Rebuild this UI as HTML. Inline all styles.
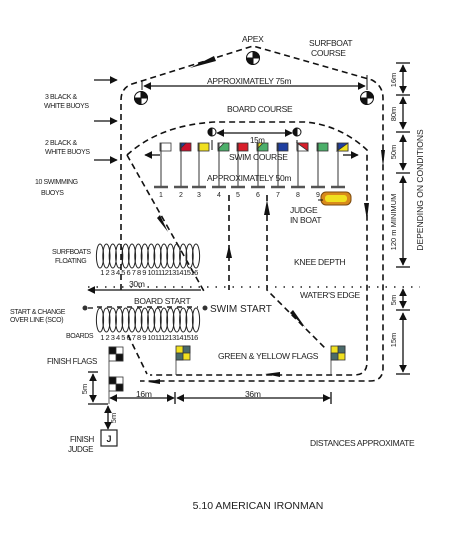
<!DOCTYPE html>
<html><head><meta charset="utf-8"><style>
html,body{margin:0;padding:0;background:#fff;width:469px;height:533px;overflow:hidden}
svg{display:block}
text{font-family:"Liberation Sans",sans-serif;fill:#222}
</style></head><body>
<svg width="469" height="533" viewBox="0 0 469 533" xmlns="http://www.w3.org/2000/svg">
<defs>
<marker id="ah" viewBox="0 0 10 10" refX="9" refY="5" markerWidth="6" markerHeight="6" orient="auto-start-reverse"><path d="M0,0L10,5L0,10z" fill="#111"/></marker>
<g id="coil"><ellipse cx="0" cy="0" rx="3.6" ry="12" fill="none" stroke="#222" stroke-width="1"/></g>
</defs>
<g fill="none" stroke="#111" stroke-width="1.6" stroke-dasharray="6,4">
<path d="M121,290 L121,100 Q121,88 132,84 L253,46 L372,80 Q383,86 383,98 L383,368 Q383,381 370,381 L140,381"/>
<path d="M128,335 L147,374"/>
<path d="M127,155 Q160,125 215,122 L305,122 Q340,125 367,150 L367,362 Q367,375 354,375 L150,375"/>
<path d="M127,155 L205,293"/>
<path d="M229,195 L229,290"/>
<path d="M267,195 L267,290 L327,350"/>
</g>
<g fill="#111">
<path d="M190,68 L214,56 L216,61z"/>
<path d="M381,150 L385,150 L383,167z"/>
<path d="M364,203 L369,203 L367,220z"/>
<path d="M229,245 L226,258 L232,258z"/>
<path d="M267,200 L264,215 L270,215z"/>
<path d="M160,215 L157,218 L168,232z"/>
<path d="M293,310 L290,313 L305,327z"/>
<path d="M265,374 L280,372 L280,377z"/>
<path d="M148,382 L160,379 L160,384z"/>
</g>
<line x1="88" y1="287" x2="420" y2="287" stroke="#222" stroke-width="1.6" stroke-dasharray="1.5,7"/>
<g stroke="#111" stroke-width="1">
<circle cx="253" cy="58" r="6.5" fill="#fff"/><path d="M253,58V51.5A6.5,6.5 0 0 1 259.5,58z M253,58V64.5A6.5,6.5 0 0 1 246.5,58z" fill="#111"/>
<circle cx="141" cy="98" r="6.5" fill="#fff"/><path d="M141,98V91.5A6.5,6.5 0 0 1 147.5,98z M141,98V104.5A6.5,6.5 0 0 1 134.5,98z" fill="#111"/>
<circle cx="367" cy="98" r="6.5" fill="#fff"/><path d="M367,98V91.5A6.5,6.5 0 0 1 373.5,98z M367,98V104.5A6.5,6.5 0 0 1 360.5,98z" fill="#111"/>
<circle cx="212" cy="132" r="4" fill="#fff"/><path d="M212,128A4,4 0 0 0 212,136z" fill="#111"/>
<circle cx="297" cy="132" r="4" fill="#fff"/><path d="M297,128A4,4 0 0 0 297,136z" fill="#111"/>
<line x1="212" y1="140" x2="212" y2="150"/><line x1="297" y1="140" x2="297" y2="150"/>
<line x1="142" y1="80" x2="142" y2="90"/><line x1="367" y1="75" x2="367" y2="90"/>
</g>
<g stroke="#111" stroke-width="1.3">
<line x1="144" y1="86" x2="365" y2="86" marker-start="url(#ah)" marker-end="url(#ah)"/>
<line x1="217" y1="133" x2="292" y2="133" marker-start="url(#ah)" marker-end="url(#ah)"/>
<line x1="94" y1="80" x2="117" y2="80" marker-end="url(#ah)"/>
<line x1="94" y1="121" x2="117" y2="121" marker-end="url(#ah)"/>
<line x1="94" y1="160" x2="117" y2="160" marker-end="url(#ah)"/>
<line x1="160" y1="155" x2="145" y2="155" marker-end="url(#ah)"/>
<line x1="343" y1="155" x2="358" y2="155" marker-end="url(#ah)"/>
<line x1="201" y1="290" x2="88" y2="290" marker-end="url(#ah)"/>
<line x1="88" y1="308" x2="93" y2="308"/>
</g>
<circle cx="85" cy="308" r="2.5" fill="#333"/>
<circle cx="205" cy="308" r="2.5" fill="#333"/>
<g stroke="#333" stroke-width="0.8">
<rect x="160" y="143" width="11" height="8" fill="#fff"/>
<rect x="180" y="143" width="11" height="8" fill="#c8102e"/><path d="M180,143h6l-6,6z" fill="#1f3fa0"/>
<rect x="198" y="143" width="11" height="8" fill="#f0e020"/>
<rect x="218" y="143" width="11" height="8" fill="#4caf6a"/><path d="M218,143h6l-6,6z" fill="#fff"/>
<rect x="237" y="143" width="11" height="8" fill="#d81e2a"/>
<rect x="257" y="143" width="11" height="8" fill="#4caf6a"/><path d="M257,143h6l-6,6z" fill="#f0e020"/>
<rect x="277" y="143" width="11" height="8" fill="#1f3fa0"/>
<rect x="297" y="143" width="11" height="8" fill="#fff"/><path d="M297,143h11v8z" fill="#d81e2a"/>
<rect x="317" y="143" width="11" height="8" fill="#4caf6a"/>
<rect x="337" y="143" width="11" height="8" fill="#1f3fa0"/><path d="M348,143v8h-11z" fill="#f0e020"/>
</g>
<g stroke="#333" stroke-width="1">
<line x1="161" y1="143" x2="161" y2="187"/><line x1="181" y1="143" x2="181" y2="187"/><line x1="199" y1="143" x2="199" y2="187"/><line x1="219" y1="143" x2="219" y2="187"/><line x1="238" y1="143" x2="238" y2="187"/><line x1="258" y1="143" x2="258" y2="187"/><line x1="278" y1="143" x2="278" y2="187"/><line x1="298" y1="143" x2="298" y2="187"/><line x1="318" y1="143" x2="318" y2="187"/><line x1="338" y1="143" x2="338" y2="187"/>
</g>
<g stroke="#555" stroke-width="2.5">
<line x1="154" y1="187" x2="168" y2="187"/><line x1="174" y1="187" x2="188" y2="187"/><line x1="192" y1="187" x2="206" y2="187"/><line x1="212" y1="187" x2="226" y2="187"/><line x1="231" y1="187" x2="245" y2="187"/><line x1="251" y1="187" x2="265" y2="187"/><line x1="271" y1="187" x2="285" y2="187"/><line x1="291" y1="187" x2="305" y2="187"/><line x1="311" y1="187" x2="325" y2="187"/><line x1="331" y1="187" x2="345" y2="187"/>
</g>
<g font-size="7" text-anchor="middle">
<text x="161" y="197">1</text><text x="181" y="197">2</text><text x="199" y="197">3</text><text x="219" y="197">4</text><text x="238" y="197">5</text><text x="258" y="197">6</text><text x="278" y="197">7</text><text x="298" y="197">8</text><text x="318" y="197">9</text><text x="338" y="197">10</text>
</g>
<rect x="321" y="192" width="30" height="13" rx="5" fill="#d98a1a" stroke="#7a4a10" stroke-width="1"/>
<rect x="325" y="195" width="22" height="7" rx="3" fill="#f0e020"/>
<line x1="318" y1="200" x2="323" y2="200" stroke="#111"/>
<g transform="translate(0,256)">
<use href="#coil" x="100"/><use href="#coil" x="106.4"/><use href="#coil" x="112.8"/><use href="#coil" x="119.2"/><use href="#coil" x="125.6"/><use href="#coil" x="132"/><use href="#coil" x="138.4"/><use href="#coil" x="144.8"/><use href="#coil" x="151.2"/><use href="#coil" x="157.6"/><use href="#coil" x="164"/><use href="#coil" x="170.4"/><use href="#coil" x="176.8"/><use href="#coil" x="183.2"/><use href="#coil" x="189.6"/><use href="#coil" x="196"/>
</g>
<g transform="translate(0,320)">
<use href="#coil" x="100"/><use href="#coil" x="106.4"/><use href="#coil" x="112.8"/><use href="#coil" x="119.2"/><use href="#coil" x="125.6"/><use href="#coil" x="132"/><use href="#coil" x="138.4"/><use href="#coil" x="144.8"/><use href="#coil" x="151.2"/><use href="#coil" x="157.6"/><use href="#coil" x="164"/><use href="#coil" x="170.4"/><use href="#coil" x="176.8"/><use href="#coil" x="183.2"/><use href="#coil" x="189.6"/><use href="#coil" x="196"/>
</g>
<line x1="97" y1="307" x2="198" y2="307" stroke="#222" stroke-width="1.5" stroke-dasharray="5,5"/>
<g font-size="7.5" text-anchor="middle" letter-spacing="-0.5">
<text x="149" y="275">1 2 3 4 5 6 7 8 9 10111213141516</text>
<text x="149" y="340">1 2 3 4 5 6 7 8 9 10111213141516</text>
</g>
<g stroke="#333" stroke-width="0.8">
<rect x="109" y="347" width="14" height="14" fill="#fff"/><rect x="109" y="347" width="7" height="7" fill="#111"/><rect x="116" y="354" width="7" height="7" fill="#111"/>
<rect x="109" y="377" width="14" height="14" fill="#fff"/><rect x="109" y="377" width="7" height="7" fill="#111"/><rect x="116" y="384" width="7" height="7" fill="#111"/>
<line x1="109" y1="361" x2="109" y2="377"/><line x1="109" y1="391" x2="109" y2="404"/>
<rect x="176" y="346" width="14" height="14" fill="#f0e020"/><rect x="183" y="346" width="7" height="7" fill="#4a6a6a"/><rect x="176" y="353" width="7" height="7" fill="#4a6a6a"/>
<line x1="176" y1="360" x2="176" y2="375"/>
<rect x="331" y="346" width="14" height="14" fill="#f0e020"/><rect x="338" y="346" width="7" height="7" fill="#4a6a6a"/><rect x="331" y="353" width="7" height="7" fill="#4a6a6a"/>
<line x1="331" y1="360" x2="331" y2="375"/>
</g>
<g stroke="#111" stroke-width="1.3">
<line x1="110" y1="398" x2="174" y2="398" marker-start="url(#ah)" marker-end="url(#ah)"/>
<line x1="177" y1="398" x2="330" y2="398" marker-start="url(#ah)" marker-end="url(#ah)"/>
<line x1="175" y1="392" x2="175" y2="404"/><line x1="331" y1="392" x2="331" y2="404"/>
<line x1="93" y1="374" x2="93" y2="402" marker-start="url(#ah)" marker-end="url(#ah)"/>
<line x1="88" y1="372" x2="98" y2="372"/><line x1="88" y1="404" x2="108" y2="404"/>
<line x1="108" y1="406" x2="108" y2="429" marker-start="url(#ah)" marker-end="url(#ah)"/>
<line x1="403" y1="65" x2="403" y2="93" marker-start="url(#ah)" marker-end="url(#ah)"/>
<line x1="403" y1="97" x2="403" y2="129" marker-start="url(#ah)" marker-end="url(#ah)"/>
<line x1="403" y1="135" x2="403" y2="170" marker-start="url(#ah)" marker-end="url(#ah)"/>
<line x1="403" y1="176" x2="403" y2="265" marker-start="url(#ah)" marker-end="url(#ah)"/>
<line x1="403" y1="289" x2="403" y2="308" marker-start="url(#ah)" marker-end="url(#ah)"/>
<line x1="403" y1="313" x2="403" y2="372" marker-start="url(#ah)" marker-end="url(#ah)"/>
<line x1="396" y1="63" x2="410" y2="63"/><line x1="396" y1="95" x2="410" y2="95"/><line x1="396" y1="132" x2="410" y2="132"/><line x1="396" y1="173" x2="410" y2="173"/><line x1="396" y1="267" x2="410" y2="267"/><line x1="396" y1="310" x2="410" y2="310"/><line x1="396" y1="374" x2="410" y2="374"/>
</g>
<rect x="101" y="430" width="16" height="16" fill="#fff" stroke="#222" stroke-width="1.2"/>
<text x="109" y="442" font-size="9" font-weight="bold" text-anchor="middle">J</text>
<g font-size="8.5" letter-spacing="-0.3">
<text x="242" y="42">APEX</text>
<text x="309" y="46">SURFBOAT</text><text x="311" y="56">COURSE</text>
<text x="207" y="84">APPROXIMATELY 75m</text>
<text x="227" y="112">BOARD COURSE</text>
<text x="250" y="143" font-size="8">15m</text>
<text x="229" y="160">SWIM COURSE</text>
<text x="207" y="181">APPROXIMATELY 50m</text>
<text x="290" y="213">JUDGE</text><text x="290" y="223">IN BOAT</text>
<text x="294" y="265">KNEE DEPTH</text>
<text x="300" y="298">WATER'S EDGE</text>
<text x="218" y="359">GREEN &amp; YELLOW FLAGS</text>
<text x="310" y="446">DISTANCES APPROXIMATE</text>
<text x="134" y="304">BOARD START</text>
<text x="129" y="287">30m</text>
<text x="136" y="397">16m</text><text x="245" y="397">36m</text>
</g>
<text x="210" y="312" font-size="10">SWIM START</text>
<g font-size="7" letter-spacing="-0.4">
<text x="45" y="99">3 BLACK &amp;</text><text x="44" y="108">WHITE BUOYS</text>
<text x="45" y="145">2 BLACK &amp;</text><text x="45" y="154">WHITE BUOYS</text>
<text x="35" y="184">10 SWIMMING</text><text x="41" y="195">BUOYS</text>
<text x="52" y="254">SURFBOATS</text><text x="55" y="263">FLOATING</text>
<text x="10" y="314">START &amp; CHANGE</text><text x="10" y="322">OVER LINE (SCO)</text>
<text x="66" y="338">BOARDS</text>
<text x="47" y="364" font-size="8">FINISH FLAGS</text>
<text x="70" y="442" font-size="8">FINISH</text><text x="68" y="452" font-size="8">JUDGE</text>
</g>
<g font-size="7.5" text-anchor="middle">
<text transform="translate(396,80) rotate(-90)">16m</text>
<text transform="translate(396,114) rotate(-90)">80m</text>
<text transform="translate(396,152) rotate(-90)">50m</text>
<text transform="translate(396,222) rotate(-90)">120 m MINIMUM</text>
<text transform="translate(396,300) rotate(-90)">5m</text>
<text transform="translate(396,340) rotate(-90)">15m</text>
<text transform="translate(87,389) rotate(-90)">5m</text>
<text transform="translate(116,418) rotate(-90)">5m</text>
</g>
<text transform="translate(423,190) rotate(-90)" font-size="8.5" text-anchor="middle">DEPENDING ON CONDITIONS</text>
<text x="258" y="509" font-size="10.5" text-anchor="middle">5.10 AMERICAN IRONMAN</text>
</svg>
</body></html>
